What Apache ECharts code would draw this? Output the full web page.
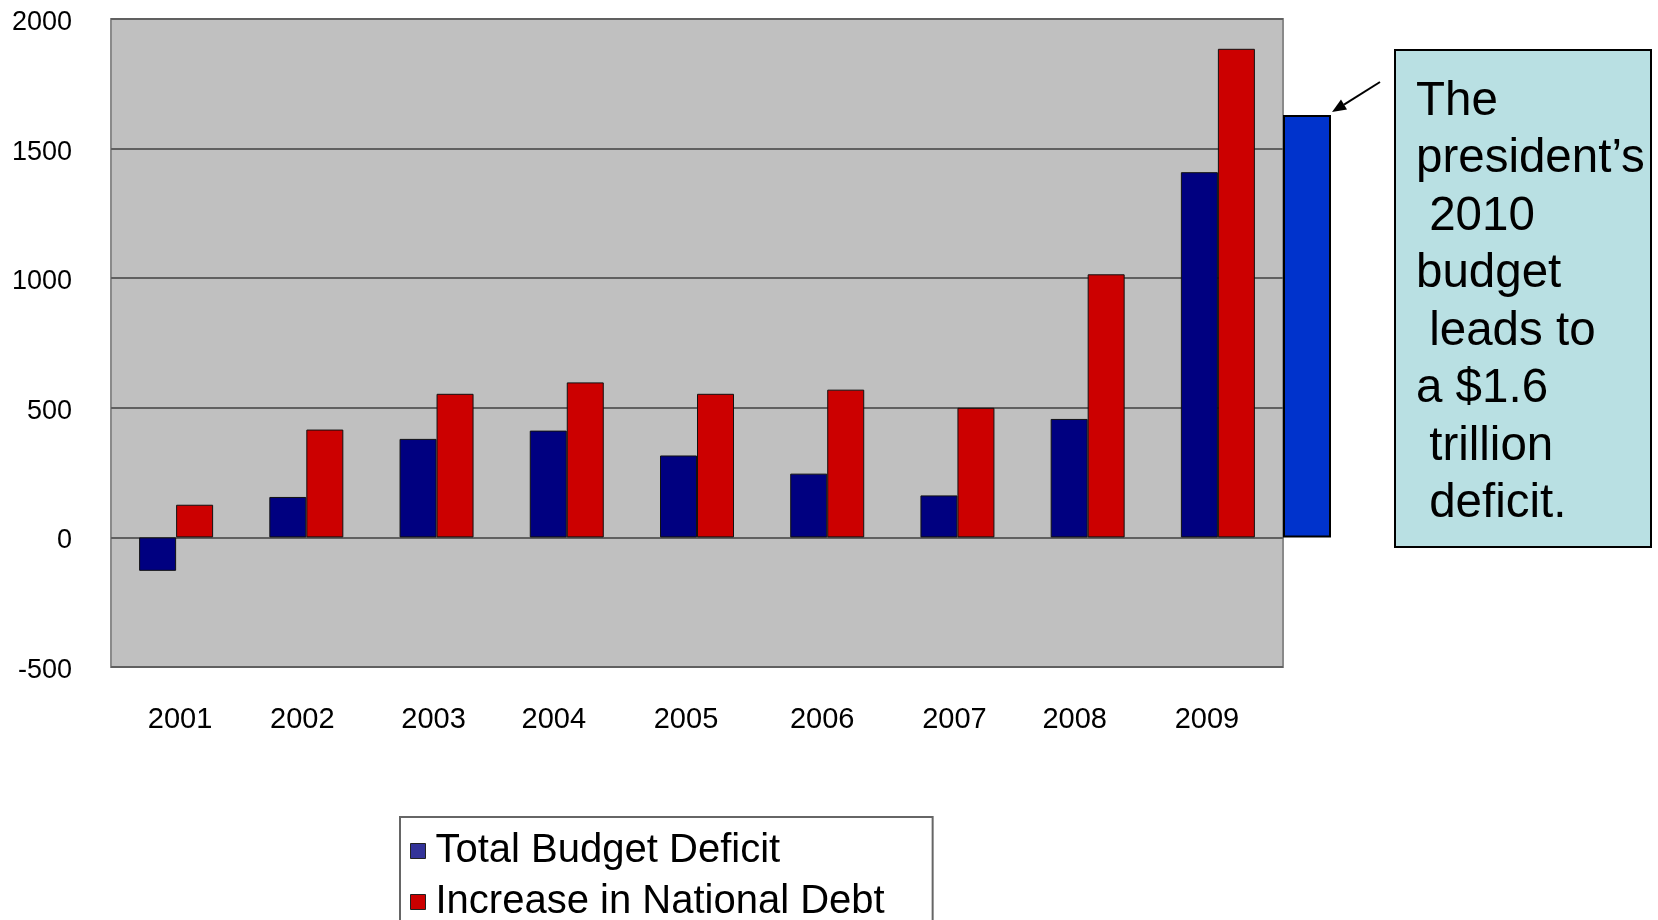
<!DOCTYPE html>
<html>
<head>
<meta charset="utf-8">
<script src="https://cdn.jsdelivr.net/npm/echarts@6/dist/echarts.min.js"></script>
<style>
    html, body { margin: 0; padding: 0; background: #fff; }
    #chart { width: 1658px; height: 920px; }
</style>
</head>
<body>
<div id="chart"></div>
<script>
var years = ['2001', '2002', '2003', '2004', '2005', '2006', '2007', '2008', '2009'];
var budgetDeficit = [-129, 156, 380, 412, 316, 246, 162, 457, 1409];
var debtIncrease = [126, 416, 554, 598, 554, 570, 500, 1015, 1885];
var yTicks = [-500, 0, 500, 1000, 1500, 2000];
var year2010 = ['2010'];
var deficit2010 = [1630];
var noteLines = ['The', 'president\u2019s', ' 2010', 'budget', ' leads to', 'a $1.6', ' trillion', ' deficit.'];

var FONT = '"Liberation Sans", Arial, sans-serif';

// the old chart put its year labels a little off the bar centres
var labelShift = [4, -4, -3, -13, -11, -5, -3, -13, -11];

function drawBudgetChart() {
    var chartDom = document.getElementById('chart');
    var myChart = echarts.init(chartDom);
    var option;

    var rich = {};
    for (var i = 0; i < labelShift.length; i++) {
        var s = labelShift[i];
        rich['s' + i] = {
            fontFamily: FONT,
            fontSize: 29,
            color: '#000',
            padding: s > 0 ? [0, 0, 0, 2 * s] : [0, -2 * s, 0, 0]
        };
    }

    option = {
        animation: false,
        textStyle: { fontFamily: FONT },
        grid: [
            {
                left: 111,
                top: 19,
                width: 1172,
                bottom: 253,
                show: true,
                backgroundColor: '#c0c0c0',
                borderColor: '#8a8a8a',
                borderWidth: 2
            },
            {
                left: 1283,
                top: 19,
                width: 48,
                bottom: 253
            }
        ],
        legend: {
            orient: 'vertical',
            left: 400,
            top: 817,
            width: 600,
            height: 300,
            padding: [14, 48, 8, 10],
            itemGap: 11,
            itemWidth: 15,
            itemHeight: 15,
            borderColor: '#666',
            borderWidth: 2,
            textStyle: {
                fontFamily: FONT,
                fontSize: 40,
                color: '#000',
                padding: [0, 0, 0, 5]
            },
            data: [
                { name: 'Total Budget Deficit', icon: 'rect', itemStyle: { color: '#333399', borderColor: '#222', borderWidth: 1 } },
                { name: 'Increase in National Debt', icon: 'rect', itemStyle: { color: '#cc0000', borderColor: '#222', borderWidth: 1 } }
            ]
        },
        xAxis: [
            {
                type: 'category',
                gridIndex: 0,
                data: years,
                axisLine: { show: false, onZero: false },
                axisTick: { show: false },
                axisLabel: {
                    interval: 0,
                    fontFamily: FONT,
                    fontSize: 29,
                    color: '#000',
                    margin: 38,
                    formatter: function(value, index) {
                        return '{s' + index + '|' + value + '}';
                    },
                    rich: rich
                }
            },
            {
                type: 'category',
                gridIndex: 1,
                data: year2010,
                show: false
            }
        ],
        yAxis: [
            {
                type: 'value',
                gridIndex: 0,
                min: yTicks[0],
                max: yTicks[yTicks.length - 1],
                interval: 500,
                axisLine: { show: false },
                axisTick: { show: false },
                axisLabel: {
                    margin: 39,
                    formatter: function(v) { return '{y|' + v + '}'; },
                    rich: {
                        y: {
                            fontFamily: FONT,
                            fontSize: 27,
                            color: '#000',
                            padding: [7, 0, 0, 0]
                        }
                    }
                },
                splitLine: {
                    show: true,
                    lineStyle: { color: '#606060', width: 2 }
                }
            },
            {
                type: 'value',
                gridIndex: 1,
                min: yTicks[0],
                max: yTicks[yTicks.length - 1],
                show: false
            }
        ],
        series: [
            {
                name: 'Total Budget Deficit',
                type: 'bar',
                xAxisIndex: 0,
                yAxisIndex: 0,
                barWidth: 37,
                barGap: '0%',
                data: budgetDeficit,
                itemStyle: { color: '#000080', borderColor: '#111', borderWidth: 1 }
            },
            {
                name: 'Increase in National Debt',
                type: 'bar',
                xAxisIndex: 0,
                yAxisIndex: 0,
                barWidth: 37,
                barGap: '0%',
                data: debtIncrease,
                itemStyle: { color: '#cc0000', borderColor: '#111', borderWidth: 1 }
            },
            {
                name: '2010 budget',
                type: 'bar',
                xAxisIndex: 1,
                yAxisIndex: 1,
                barWidth: '100%',
                data: deficit2010,
                itemStyle: { color: '#0033cc', borderColor: '#000', borderWidth: 2 }
            }
        ],
        graphic: [
            {
                type: 'rect',
                shape: { x: 1395, y: 50, width: 256, height: 497 },
                style: { fill: '#b9e0e3', stroke: '#000', lineWidth: 2 }
            },
            {
                type: 'text',
                x: 1416,
                y: 73,
                style: {
                    text: noteLines.join('\n'),
                    font: '47.5px ' + FONT,
                    fill: '#000',
                    lineHeight: 57.5
                }
            },
            {
                type: 'line',
                shape: { x1: 1380, y1: 82, x2: 1344, y2: 104.6 },
                style: { stroke: '#000', lineWidth: 2 }
            },
            {
                type: 'polygon',
                shape: { points: [[1332, 112], [1347, 109.5], [1341, 99.5]] },
                style: { fill: '#000' }
            }
        ]
    };

    option && myChart.setOption(option);
}

drawBudgetChart();
</script>
</body>
</html>
